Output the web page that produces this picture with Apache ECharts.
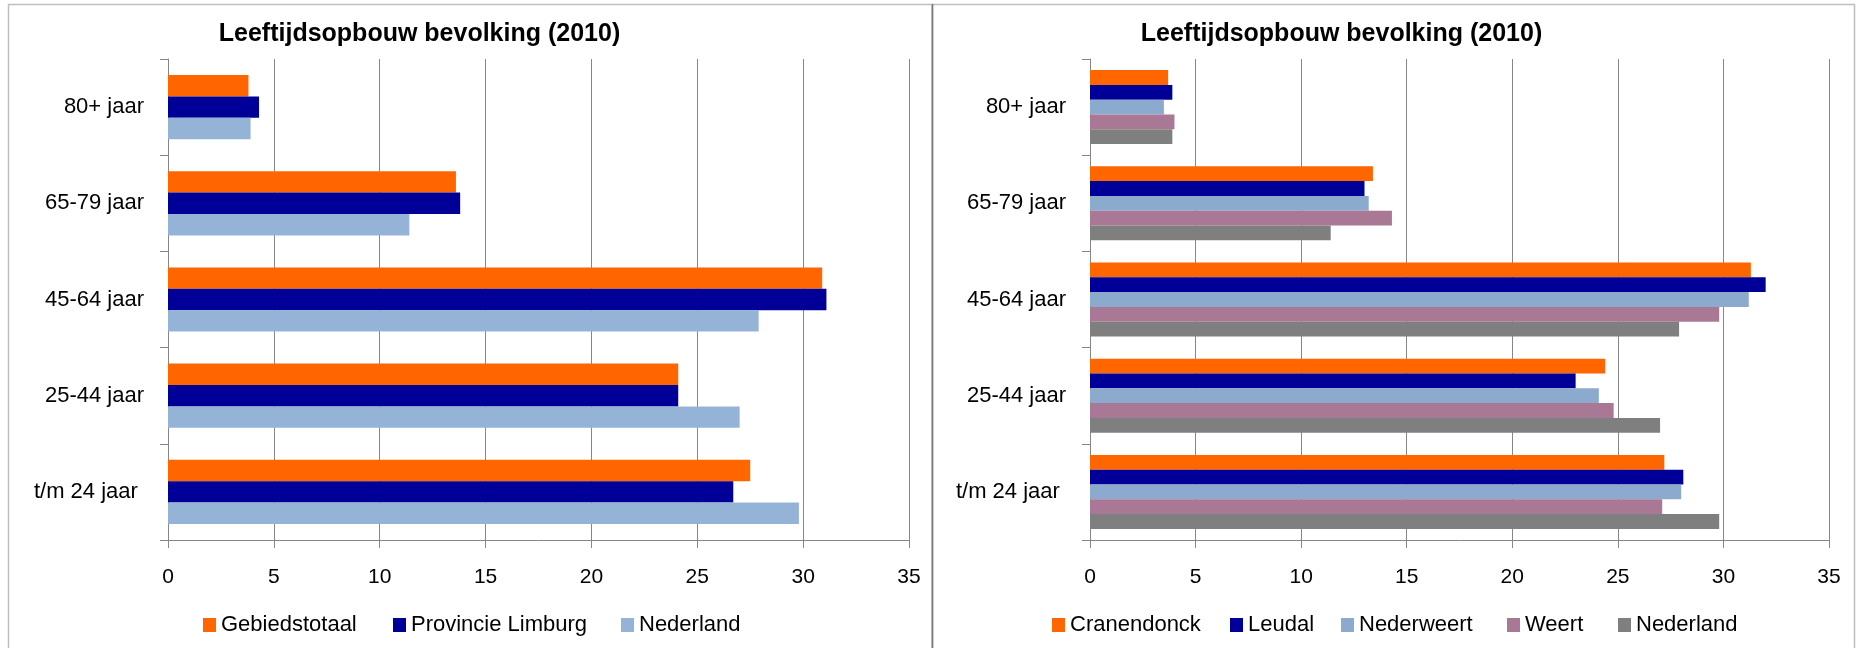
<!DOCTYPE html>
<html>
<head>
<meta charset="utf-8">
<script src="https://cdn.jsdelivr.net/npm/echarts@6/dist/echarts.min.js"></script>
<style>
  html, body { margin: 0; padding: 0; background: #ffffff; }
  #chart { width: 1858px; height: 648px; }
</style>
</head>
<body>
<div id="chart"></div>
<script>
// ---- data ----
var titleText = 'Leeftijdsopbouw bevolking (2010)';
var categories = ['80+ jaar', '65-79 jaar', '45-64 jaar', '25-44 jaar', 't/m 24 jaar '];
var xTicks = { min: 0, max: 35, interval: 5 };

// left chart
var gebiedstotaal    = [3.8, 13.6, 30.9, 24.1, 27.5];
var provincieLimburg = [4.3, 13.8, 31.1, 24.1, 26.7];
var nederland        = [3.9, 11.4, 27.9, 27.0, 29.8];

// right chart
var cranendonck = [3.7, 13.4, 31.3, 24.4, 27.2];
var leudal      = [3.9, 13.0, 32.0, 23.0, 28.1];
var nederweert  = [3.5, 13.2, 31.2, 24.1, 28.0];
var weert       = [4.0, 14.3, 29.8, 24.8, 27.1];

// ---- styling ----
var FONT = '"Liberation Sans", Arial, sans-serif';
var C = {
  orange: '#FF6600', navy: '#000099', lightBlueL: '#95B3D7',
  lightBlueR: '#8BAACD', purple: '#A97895', grey: '#7F7F7F'
};
var axisGrey = '#868686';

function xAxisFor(gi) {
  return {
    type: 'value', gridIndex: gi,
    min: xTicks.min, max: xTicks.max, interval: xTicks.interval,
    axisLine: { show: true, lineStyle: { color: axisGrey, width: 1 } },
    axisTick: { show: true, length: 8, lineStyle: { color: axisGrey } },
    splitLine: { show: true, lineStyle: { color: axisGrey, width: 1 } },
    axisLabel: { color: '#000', fontFamily: FONT, fontSize: 21, margin: 27 }
  };
}
function yAxisFor(gi) {
  return {
    type: 'category', gridIndex: gi, data: categories, inverse: true,
    axisLine: { show: true, lineStyle: { color: axisGrey, width: 1 } },
    axisTick: { show: true, length: 8, lineStyle: { color: axisGrey } },
    axisLabel: { color: '#000', fontFamily: FONT, fontSize: 22, margin: 24 },
    splitLine: { show: false }
  };
}
function bar(name, data, color, gi, gap) {
  return {
    type: 'bar', name: name, data: data,
    xAxisIndex: gi, yAxisIndex: gi,
    barGap: '0%', barCategoryGap: gap,
    itemStyle: { color: color },
    emphasis: { disabled: true }
  };
}
function legendItem(name, color, left) {
  return {
    data: [{ name: name, itemStyle: { color: color } }],
    left: left, top: 614, padding: 0,
    itemWidth: 13, itemHeight: 14, itemGap: 0,
    icon: 'rect',
    textStyle: { fontFamily: FONT, fontSize: 22, color: '#000' },
    selectedMode: false
  };
}

var option = {
  animation: false,
  backgroundColor: '#ffffff',
  grid: [
    { left: 168, right: 949, top: 59, bottom: 108 },
    { left: 1090, right: 29, top: 59, bottom: 108 }
  ],
  xAxis: [xAxisFor(0), xAxisFor(1)],
  yAxis: [yAxisFor(0), yAxisFor(1)],
  legend: [
    legendItem('Gebiedstotaal', C.orange, 203),
    legendItem('Provincie Limburg', C.navy, 393),
    legendItem('Nederland', C.lightBlueL, 621),
    legendItem('Cranendonck', C.orange, 1052),
    legendItem('Leudal', C.navy, 1230),
    legendItem('Nederweert', C.lightBlueR, 1341),
    legendItem('Weert', C.purple, 1507),
    legendItem('Nederland', C.grey, 1618)
  ],
  series: [
    bar('Gebiedstotaal', gebiedstotaal, C.orange, 0, '33.3%'),
    bar('Provincie Limburg', provincieLimburg, C.navy, 0, '33.3%'),
    bar('Nederland', nederland, C.lightBlueL, 0, '33.3%'),
    bar('Cranendonck', cranendonck, C.orange, 1, '23.1%'),
    bar('Leudal', leudal, C.navy, 1, '23.1%'),
    bar('Nederweert', nederweert, C.lightBlueR, 1, '23.1%'),
    bar('Weert', weert, C.purple, 1, '23.1%'),
    bar('Nederland', nederland, C.grey, 1, '23.1%')
  ],
  graphic: [
    { type: 'rect', silent: true, shape: { x: 8.5, y: 4.5, width: 923.5, height: 700 },
      style: { fill: null, stroke: '#BEBEBE', lineWidth: 1.5 } },
    { type: 'rect', silent: true, shape: { x: 932.5, y: 4.5, width: 922, height: 700 },
      style: { fill: null, stroke: '#BEBEBE', lineWidth: 1.5 } },
    { type: 'line', silent: true, shape: { x1: 932.5, y1: 4, x2: 932.5, y2: 648 },
      style: { stroke: '#7A7A7A', lineWidth: 1.5 } },
    { type: 'text', silent: true, x: 419.5, y: 34.5,
      style: { text: titleText, fontFamily: FONT, fontSize: 25, fontWeight: 'bold',
               fill: '#000', align: 'center', verticalAlign: 'middle' } },
    { type: 'text', silent: true, x: 1341.5, y: 34.5,
      style: { text: titleText, fontFamily: FONT, fontSize: 25, fontWeight: 'bold',
               fill: '#000', align: 'center', verticalAlign: 'middle' } }
  ]
};

var chart = echarts.init(document.getElementById('chart'), null, { renderer: 'canvas' });
chart.setOption(option);
</script>
</body>
</html>
